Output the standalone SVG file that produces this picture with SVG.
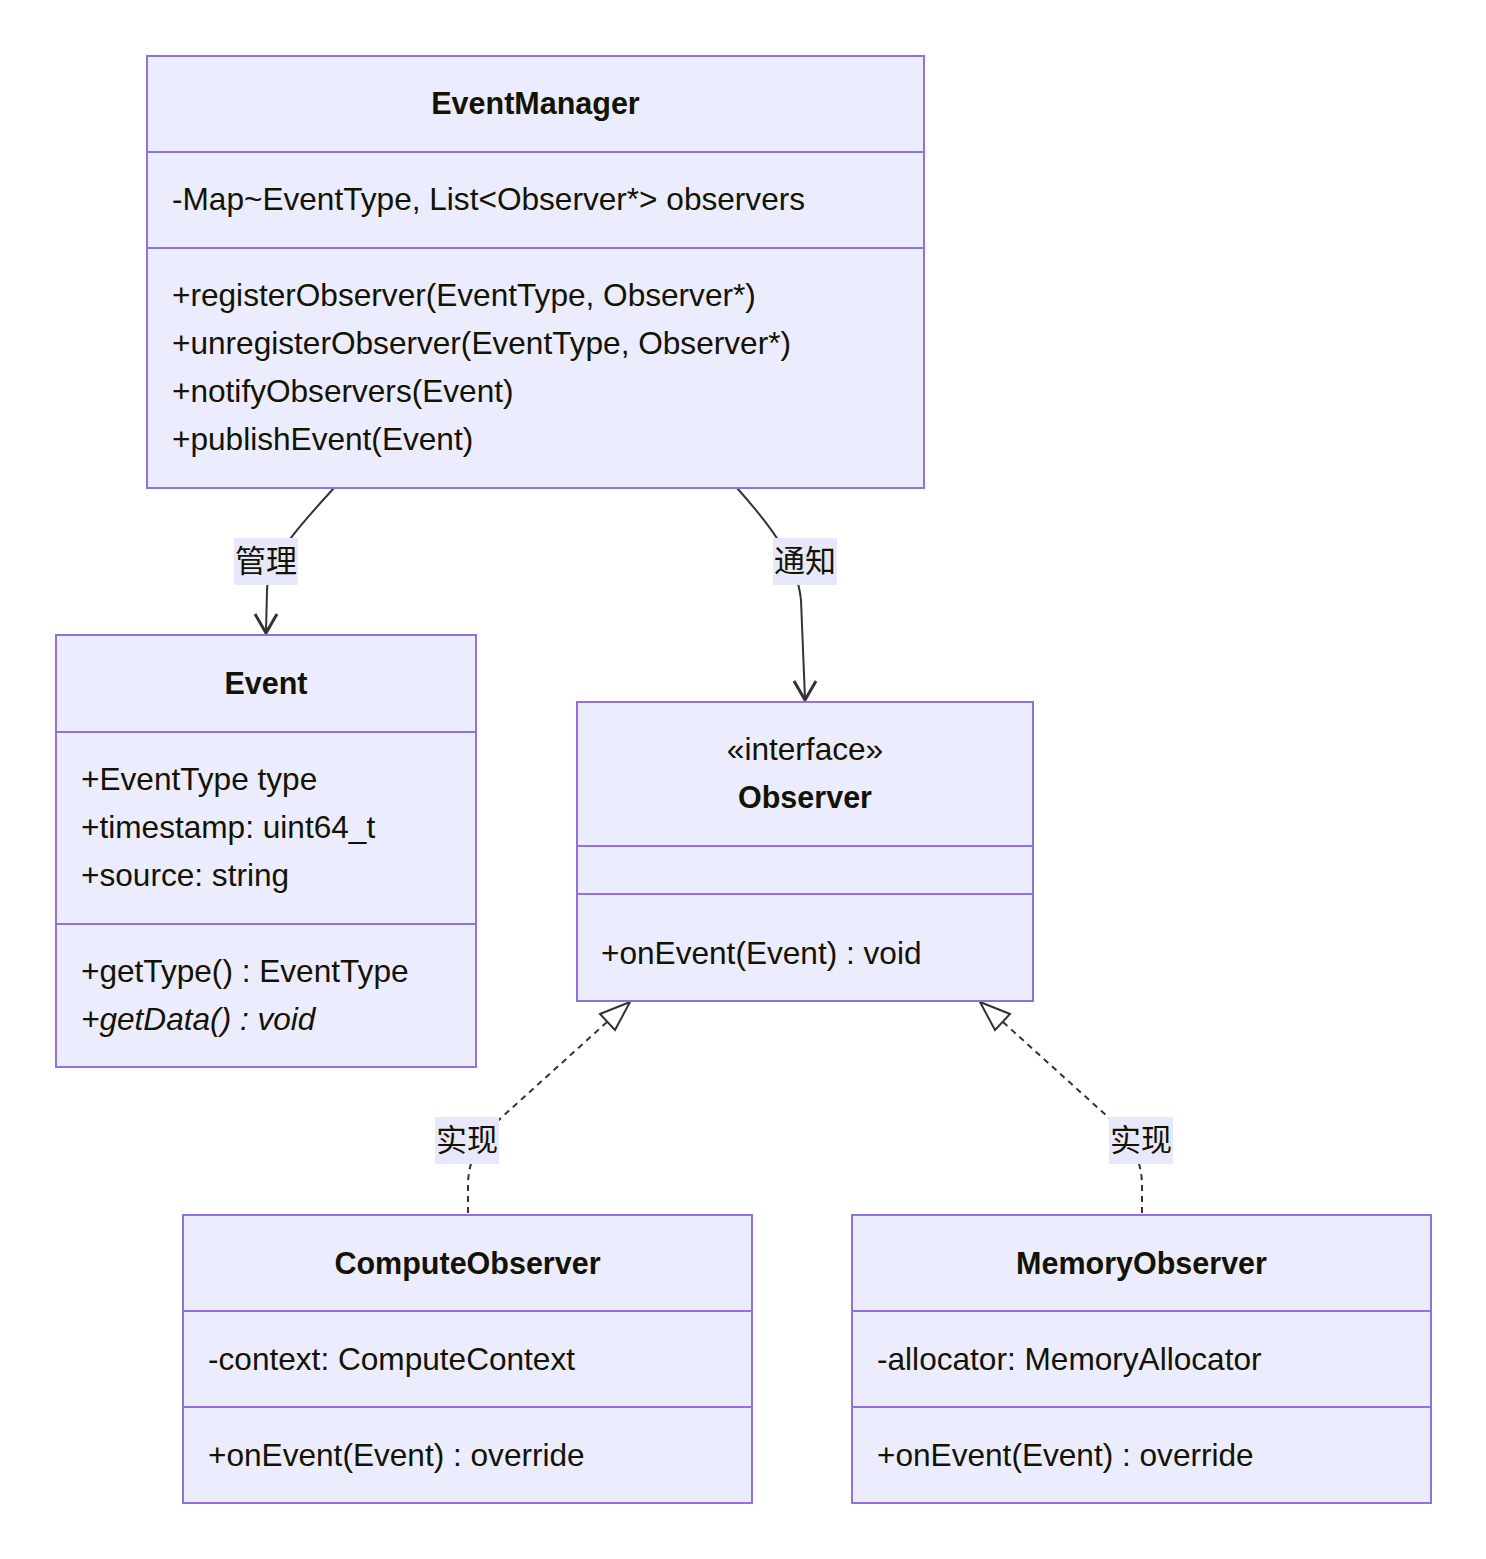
<svg xmlns="http://www.w3.org/2000/svg" width="1486" height="1559" viewBox="0 0 1486 1559">
<defs>
<style>
.box{fill:#ECECFF;stroke:#9370DB;stroke-width:2}
.div{stroke:#9370DB;stroke-width:2}
.t{font-family:"Liberation Sans",Arial,sans-serif;font-size:31.6px;fill:#131300}
.title{font-family:"Liberation Sans",Arial,sans-serif;font-size:30.5px;font-weight:bold;fill:#131300;text-anchor:middle}
.ital{font-style:italic}
.edge{fill:none;stroke:#333333;stroke-width:2}
.dash{stroke-dasharray:6,5}
.lblbg{fill:#E8E8FC}
.lbl{font-family:"Noto Sans CJK SC","Liberation Sans",sans-serif;font-size:31px;fill:#131300;text-anchor:middle}
.head{fill:none;stroke:#333333;stroke-width:3;stroke-linejoin:miter}
.tri{fill:#ffffff;stroke:#333333;stroke-width:2}
</style>
</defs>
<rect width="1486" height="1559" fill="#ffffff"/>

<g id="connectors">
  <path class="edge" d="M334,488 C300,525 268,560 267,590 L266,632"/>
  <path class="head" d="M255,614 L266,633 L277,614"/>
  <path class="edge" d="M737,488 C770,525 797,560 801,600 L805,699"/>
  <path class="head" d="M794,681 L805,700 L816,681"/>
  <path class="edge dash" d="M607,1022 L502,1117 C480,1137 468,1160 468,1185 L468,1215"/>
  <polygon class="tri" points="630,1002 615,1030 600,1014"/>
  <path class="edge dash" d="M1003,1022 L1108,1117 C1130,1137 1142,1160 1142,1185 L1142,1215"/>
  <polygon class="tri" points="980,1002 995,1030 1010,1014"/>
  <g id="label-manage">
    <rect class="lblbg" x="234" y="538" width="64" height="47"/>
    <text class="lbl" x="266" y="572">管理</text>
  </g>
  <g id="label-notify">
    <rect class="lblbg" x="773" y="538" width="64" height="47"/>
    <text class="lbl" x="805" y="572">通知</text>
  </g>
  <g id="label-impl1">
    <rect class="lblbg" x="435" y="1117" width="64" height="47"/>
    <text class="lbl" x="467" y="1151">实现</text>
  </g>
  <g id="label-impl2">
    <rect class="lblbg" x="1109" y="1117" width="64" height="47"/>
    <text class="lbl" x="1141" y="1151">实现</text>
  </g>
</g>

<g id="EventManager">
  <rect class="box" x="147" y="56" width="777" height="432"/>
  <line class="div" x1="147" y1="152" x2="924" y2="152"/>
  <line class="div" x1="147" y1="248" x2="924" y2="248"/>
  <text class="title" x="535.5" y="114">EventManager</text>
  <text class="t" x="172" y="210">-Map~EventType, List&lt;Observer*&gt; observers</text>
  <text class="t" x="172" y="306">+registerObserver(EventType, Observer*)</text>
  <text class="t" x="172" y="354">+unregisterObserver(EventType, Observer*)</text>
  <text class="t" x="172" y="402">+notifyObservers(Event)</text>
  <text class="t" x="172" y="450">+publishEvent(Event)</text>
</g>

<g id="Event">
  <rect class="box" x="56" y="635" width="420" height="432"/>
  <line class="div" x1="56" y1="732" x2="476" y2="732"/>
  <line class="div" x1="56" y1="924" x2="476" y2="924"/>
  <text class="title" x="266" y="694">Event</text>
  <text class="t" x="81" y="790">+EventType type</text>
  <text class="t" x="81" y="838">+timestamp: uint64_t</text>
  <text class="t" x="81" y="886">+source: string</text>
  <text class="t" x="81" y="982">+getType() : EventType</text>
  <text class="t ital" x="81" y="1030">+getData() : void</text>
</g>

<g id="Observer">
  <rect class="box" x="577" y="702" width="456" height="299"/>
  <line class="div" x1="577" y1="846" x2="1033" y2="846"/>
  <line class="div" x1="577" y1="894" x2="1033" y2="894"/>
  <text class="t" x="805" y="760" text-anchor="middle">«interface»</text>
  <text class="title" x="805" y="808">Observer</text>
  <text class="t" x="601" y="964">+onEvent(Event) : void</text>
</g>

<g id="ComputeObserver">
  <rect class="box" x="183" y="1215" width="569" height="288"/>
  <line class="div" x1="183" y1="1311" x2="752" y2="1311"/>
  <line class="div" x1="183" y1="1407" x2="752" y2="1407"/>
  <text class="title" x="467.5" y="1274">ComputeObserver</text>
  <text class="t" x="208" y="1370">-context: ComputeContext</text>
  <text class="t" x="208" y="1466">+onEvent(Event) : override</text>
</g>

<g id="MemoryObserver">
  <rect class="box" x="852" y="1215" width="579" height="288"/>
  <line class="div" x1="852" y1="1311" x2="1431" y2="1311"/>
  <line class="div" x1="852" y1="1407" x2="1431" y2="1407"/>
  <text class="title" x="1141.5" y="1274">MemoryObserver</text>
  <text class="t" x="877" y="1370">-allocator: MemoryAllocator</text>
  <text class="t" x="877" y="1466">+onEvent(Event) : override</text>
</g>
</svg>
